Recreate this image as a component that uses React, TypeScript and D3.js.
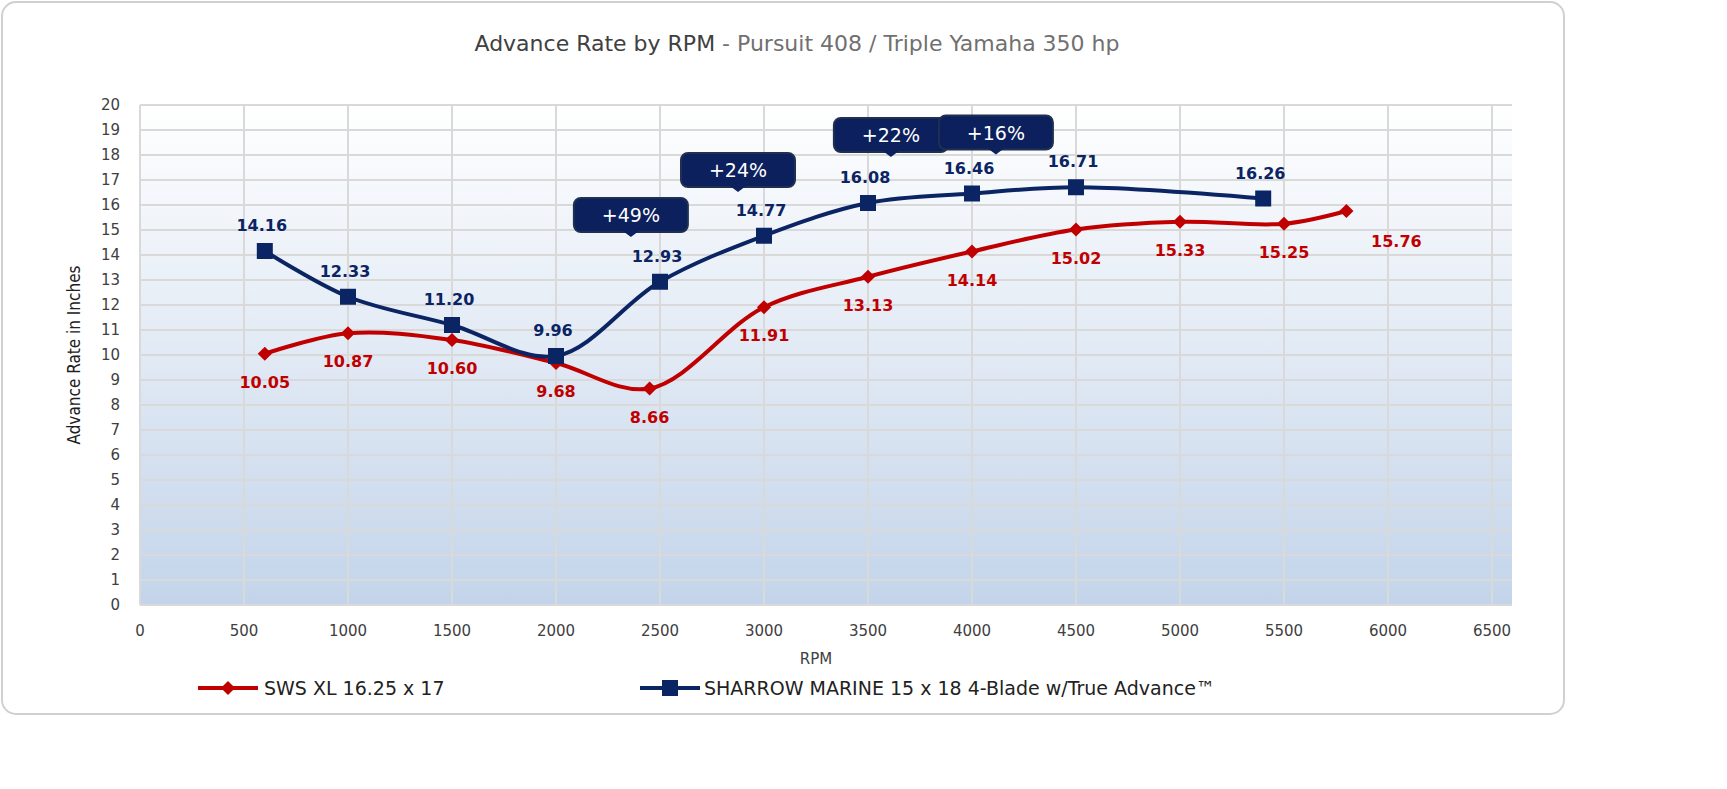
import * as d3 from 'd3';

const redRpm = [600, 1000, 1500, 2000, 2450, 3000, 3500, 4000, 4500, 5000, 5500, 5800];
const redVal = [10.05, 10.87, 10.6, 9.68, 8.66, 11.91, 13.13, 14.14, 15.02, 15.33, 15.25, 15.76];
const blueRpm = [600, 1000, 1500, 2000, 2500, 3000, 3500, 4000, 4500, 5400];
const blueVal = [14.16, 12.33, 11.2, 9.96, 12.93, 14.77, 16.08, 16.46, 16.71, 16.26];
const calloutText = ['+49%', '+24%', '+22%', '+16%'];
const calloutRpm = [2360, 2875, 3610, 4115];
const calloutVal = [15.6, 17.4, 18.8, 18.9];
const xTicks = d3.range(0, 6501, 500);
const yTicks = d3.range(0, 21, 1);

const RED = '#c00000';
const BLUE = '#0b2463';

export default function App() {
  const x = d3.scaleLinear().domain([0, 6500]).range([140, 1492]);
  const y = d3.scaleLinear().domain([0, 20]).range([605, 105]);
  const line = d3
    .line<[number, number]>()
    .x((d) => x(d[0]))
    .y((d) => y(d[1]))
    .curve(d3.curveCatmullRom.alpha(0.5));
  const red = redRpm.map((r, i) => [r, redVal[i]] as [number, number]);
  const blue = blueRpm.map((r, i) => [r, blueVal[i]] as [number, number]);
  const font = 'Verdana, "DejaVu Sans", sans-serif';

  return (
    <svg width={1727} height={789} style={{ position: 'absolute', left: 0, top: 0 }} fontFamily={font}>
      <defs>
        <linearGradient id="bg" x1="0" y1="0" x2="0" y2="1">
          <stop offset="0" stopColor="#ffffff" />
          <stop offset="1" stopColor="#c3d4ea" />
        </linearGradient>
      </defs>
      <rect x={2} y={2} width={1562} height={712} rx={14} fill="#fff" stroke="#d0d0d0" strokeWidth={2} />
      <text x={797} y={51} textAnchor="middle" fontSize={22} fill="#404040">
        Advance Rate by RPM <tspan fill="#707070">- Pursuit 408 / Triple Yamaha 350 hp</tspan>
      </text>
      <rect x={x(0)} y={y(20)} width={x(6500) - x(0) + 20} height={y(0) - y(20)} fill="url(#bg)" />
      {xTicks.map((t) => (
        <line key={'x' + t} x1={x(t)} x2={x(t)} y1={y(20)} y2={y(0)} stroke="#d9d9d9" strokeWidth={2} />
      ))}
      {yTicks.map((t) => (
        <line key={'y' + t} x1={x(0)} x2={x(6500) + 20} y1={y(t)} y2={y(t)} stroke="#d9d9d9" strokeWidth={2} />
      ))}
      {yTicks.map((t) => (
        <text key={'yl' + t} x={x(0) - 20} y={y(t) + 5} textAnchor="end" fontSize={15} fill="#404040">{t}</text>
      ))}
      {xTicks.map((t) => (
        <text key={'xl' + t} x={x(t)} y={636} textAnchor="middle" fontSize={15} fill="#404040">{t}</text>
      ))}
      <text x={816} y={664} textAnchor="middle" fontSize={15} fill="#404040">RPM</text>
      <text transform={`translate(80,${y(10)}) rotate(-90)`} textAnchor="middle" fontSize={17}
        fontFamily='"Liberation Sans Narrow", "DejaVu Sans Condensed", sans-serif' fill="#202020">
        Advance Rate in Inches
      </text>

      <path d={line(red) || ''} fill="none" stroke={RED} strokeWidth={4} />
      <path d={line(blue) || ''} fill="none" stroke={BLUE} strokeWidth={4} />
      {red.map((d, i) => (
        <rect key={'rm' + i} x={-5} y={-5} width={10} height={10} fill={RED}
          transform={`translate(${x(d[0])},${y(d[1])}) rotate(45)`} />
      ))}
      {blue.map((d, i) => (
        <rect key={'bm' + i} x={x(d[0]) - 8} y={y(d[1]) - 8} width={16} height={16} fill={BLUE} />
      ))}
      {red.map((d, i) => {
        const last = i === red.length - 1;
        return (
          <text key={'rl' + i} x={x(d[0]) + (last ? 50 : 0)} y={y(d[1]) + (last ? 36 : 34)}
            textAnchor="middle" fontSize={16} fontWeight="bold" fill={RED}>
            {d[1].toFixed(2)}
          </text>
        );
      })}
      {blue.map((d, i) => (
        <text key={'bl' + i} x={x(d[0]) - 3} y={y(d[1]) - 20} textAnchor="middle" fontSize={16}
          fontWeight="bold" fill={BLUE}>
          {d[1].toFixed(2)}
        </text>
      ))}
      {calloutText.map((t, i) => {
        const cx = x(calloutRpm[i]);
        const cy = y(calloutVal[i]);
        return (
          <g key={'c' + i}>
            <rect x={cx - 57} y={cy - 17} width={114} height={34} rx={7} fill="#0b205c"
              stroke="#1f3050" strokeWidth={2} />
            <path d={`M${cx - 8},${cy + 16} l8,6 l8,-6 z`} fill="#0b205c" />
            <text x={cx} y={cy + 7} textAnchor="middle" fontSize={19} fill="#fff">{t}</text>
          </g>
        );
      })}

      <line x1={198} x2={258} y1={688} y2={688} stroke={RED} strokeWidth={4} />
      <rect x={-5} y={-5} width={10} height={10} fill={RED} transform="translate(228,688) rotate(45)" />
      <text x={264} y={695} fontSize={19} fill="#222">SWS XL 16.25 x 17</text>
      <line x1={640} x2={700} y1={688} y2={688} stroke={BLUE} strokeWidth={4} />
      <rect x={662} y={680} width={16} height={16} fill={BLUE} />
      <text x={704} y={695} fontSize={19} fill="#222">SHARROW MARINE 15 x 18 4-Blade w/True Advance™</text>
    </svg>
  );
}
